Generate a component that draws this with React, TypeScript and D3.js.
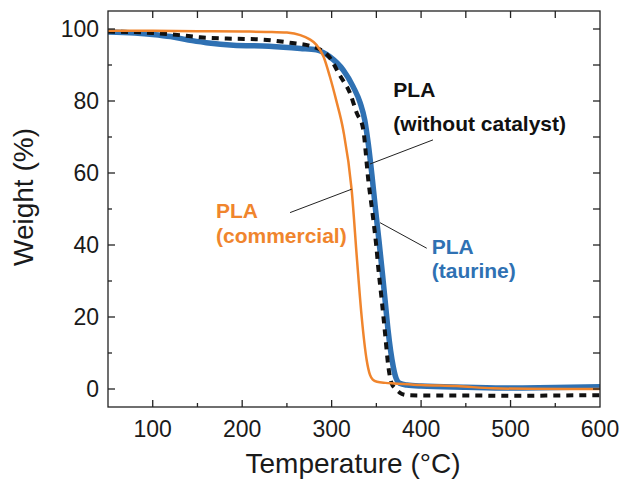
import React, { useEffect, useRef } from "react";
import * as d3 from "d3";

// PLA (taurine) - blue
const taurineTemp = [50, 80, 100, 120, 140, 160, 190, 230, 265, 283, 298, 313, 324, 332, 337, 341, 345, 349, 353, 357, 360, 363, 366, 369, 372, 376, 384, 400, 450, 500, 550, 600];
const taurineWeight = [99.2, 98.9, 98.5, 97.9, 96.9, 96.2, 95.5, 95.2, 94.6, 94.2, 92.3, 88.6, 84, 79.4, 74.7, 68, 59.5, 50, 41, 31.5, 24, 16.5, 10.5, 6, 3, 1.6, 1.1, 0.8, 0.5, 0.3, 0.4, 0.6];

// PLA (without catalyst) - black dashed
const plainTemp = [50, 100, 130, 153, 190, 220, 253, 280, 298, 309, 320.5, 328, 335, 341, 346.6, 350, 352, 356, 359.7, 363.4, 367, 371, 376, 384, 400, 450, 500, 550, 600];
const plainWeight = [99.3, 98.9, 98.3, 97.7, 97.3, 97.1, 96.2, 95, 92, 87.2, 82.2, 76.7, 72.5, 58, 47, 39.5, 34, 24.7, 15.5, 6.2, 1.6, 0.2, -1, -1.7, -1.8, -1.8, -1.9, -1.8, -1.7];

// PLA (commercial) - orange
const commTemp = [50, 100, 150, 200, 230, 250, 265, 275, 283, 291, 298, 305, 313, 322.4, 328.4, 333.6, 339.2, 342.9, 346, 350.7, 360, 370, 400, 440, 480, 520, 600];
const commWeight = [99.5, 99.5, 99.4, 99.3, 99.2, 99.0, 98.3, 97.2, 95.6, 92.3, 86.8, 80.3, 71.9, 55.3, 35.8, 20, 8, 3.9, 2.6, 2.0, 1.7, 1.55, 1.1, 0.8, 0.2, 0.05, 0];

const xTicks = [100, 200, 300, 400, 500, 600];
const yTicks = [0, 20, 40, 60, 80, 100];

const BLUE = "#2f71b3";
const ORANGE = "#f0852d";

export default function App() {
  const ref = useRef<SVGSVGElement>(null);

  useEffect(() => {
    drawChart();
  }, []);

  function drawChart() {
    const width = 624;
    const height = 481;
    const left = 108, right = 600, top = 11, bottom = 407;
    const font = "'Liberation Sans', Arial, sans-serif";

    const svg = d3.select(ref.current);
    svg.selectAll("*").remove();
    svg.attr("width", width).attr("height", height);

    const x = d3.scaleLinear().domain([50, 600]).range([left, right]);
    const y = d3.scaleLinear().domain([-5, 105]).range([bottom, top]);

    const line = d3
      .line<[number, number]>()
      .x((d) => x(d[0]))
      .y((d) => y(d[1]))
      .curve(d3.curveMonotoneX);

    const series = [
      { t: taurineTemp, w: taurineWeight, color: BLUE, width: 5.5, dash: null },
      { t: plainTemp, w: plainWeight, color: "#111", width: 4, dash: "7 6" },
      { t: commTemp, w: commWeight, color: ORANGE, width: 2.5, dash: null },
    ];

    const plot = svg.append("g");
    plot
      .append("clipPath")
      .attr("id", "clip")
      .append("rect")
      .attr("x", left)
      .attr("y", top)
      .attr("width", right - left)
      .attr("height", bottom - top);

    series.forEach((s) => {
      const pts = s.t.map((t, i) => [t, s.w[i]] as [number, number]);
      plot
        .append("path")
        .attr("clip-path", "url(#clip)")
        .attr("d", line(pts))
        .attr("fill", "none")
        .attr("stroke", s.color)
        .attr("stroke-width", s.width)
        .attr("stroke-dasharray", s.dash)
        .attr("stroke-linejoin", "round");
    });

    // frame
    svg
      .append("rect")
      .attr("x", left)
      .attr("y", top)
      .attr("width", right - left)
      .attr("height", bottom - top)
      .attr("fill", "none")
      .attr("stroke", "#222")
      .attr("stroke-width", 1.3);

    const axisColor = "#222";
    // bottom & top ticks
    d3.range(100, 600, 50).forEach((v) => {
      const major = v % 100 === 0;
      svg.append("line")
        .attr("x1", x(v)).attr("x2", x(v))
        .attr("y1", bottom).attr("y2", bottom - (major ? 7 : 4))
        .attr("stroke", axisColor).attr("stroke-width", 1.3);
      svg.append("line")
        .attr("x1", x(v)).attr("x2", x(v))
        .attr("y1", top).attr("y2", top + 7)
        .attr("stroke", axisColor).attr("stroke-width", 1.3);
    });
    // left & right ticks
    d3.range(0, 101, 10).forEach((v) => {
      const major = v % 20 === 0;
      svg.append("line")
        .attr("x1", left).attr("x2", left + (major ? 7 : 4))
        .attr("y1", y(v)).attr("y2", y(v))
        .attr("stroke", axisColor).attr("stroke-width", 1.3);
      svg.append("line")
        .attr("x1", right).attr("x2", right - 7)
        .attr("y1", y(v)).attr("y2", y(v))
        .attr("stroke", axisColor).attr("stroke-width", 1.3);
    });

    // tick labels
    svg.selectAll(".xt")
      .data(xTicks)
      .enter()
      .append("text")
      .attr("x", (d) => x(d))
      .attr("y", 437)
      .attr("text-anchor", "middle")
      .style("font-family", font)
      .style("font-size", "23px")
      .attr("fill", "#1a1a1a")
      .text((d) => d);

    svg.selectAll(".yt")
      .data(yTicks)
      .enter()
      .append("text")
      .attr("x", 99)
      .attr("y", (d) => y(d) + 8.3)
      .attr("text-anchor", "end")
      .style("font-family", font)
      .style("font-size", "23px")
      .attr("fill", "#1a1a1a")
      .text((d) => d);

    // axis titles
    svg.append("text")
      .attr("x", 353)
      .attr("y", 473)
      .attr("text-anchor", "middle")
      .style("font-family", font)
      .style("font-size", "28px")
      .attr("fill", "#1a1a1a")
      .text("Temperature (°C)");

    svg.append("text")
      .attr("transform", `translate(33, 197) rotate(-90)`)
      .attr("text-anchor", "middle")
      .style("font-family", font)
      .style("font-size", "28px")
      .attr("fill", "#1a1a1a")
      .text("Weight (%)");

    // annotations
    const notes = [
      { tx: 369, ty: 81, lines: ["PLA", "(without catalyst)"], gap: 34, color: "#111", lead: [[413.3, 69.2], [342.9, 62.5]] },
      { tx: 170.7, ty: 47.5, lines: ["PLA", "(commercial)"], gap: 25, color: ORANGE, lead: [[253.5, 49], [322.4, 55.5]] },
      { tx: 411.9, ty: 37.5, lines: ["PLA", "(taurine)"], gap: 24, color: BLUE, lead: [[354.1, 46.2], [406.3, 39.1]] },
    ];

    notes.forEach((n) => {
      svg.append("line")
        .attr("x1", x(n.lead[0][0])).attr("y1", y(n.lead[0][1]))
        .attr("x2", x(n.lead[1][0])).attr("y2", y(n.lead[1][1]))
        .attr("stroke", "#222").attr("stroke-width", 1);
      n.lines.forEach((l, i) => {
        svg.append("text")
          .attr("x", x(n.tx))
          .attr("y", y(n.ty) + i * n.gap)
          .style("font-family", font)
          .style("font-size", "21px")
          .style("font-weight", "bold")
          .attr("fill", n.color)
          .text(l);
      });
    });
  }

  return (
    <svg ref={ref} style={{ position: "absolute", left: 0, top: 0, background: "#fff" }} />
  );
}
